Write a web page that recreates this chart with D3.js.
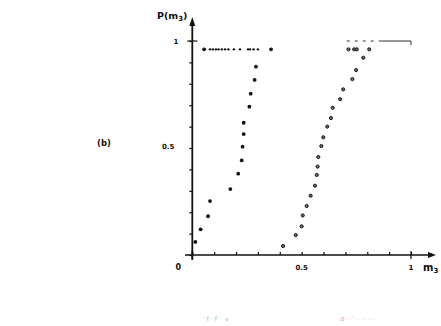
<!DOCTYPE html>
<html>
<head>
<meta charset="utf-8">
<script src="https://cdn.jsdelivr.net/npm/d3@7"></script>
<style>
  body { margin: 0; background: #fff; }
  svg { display: block; }
  text { font-family: "DejaVu Sans", sans-serif; fill: #111; }
</style>
</head>
<body>
<script>
// left series (filled dots): m3, P(m3)
const leftM = [0.014, 0.038, 0.072, 0.081, 0.174, 0.210, 0.226, 0.230, 0.235, 0.235, 0.261, 0.267, 0.285, 0.291,
               0.054, 0.081, 0.094, 0.108, 0.120, 0.135, 0.150, 0.165, 0.190, 0.218, 0.255, 0.264, 0.280, 0.300, 0.360];
const leftP = [0.061, 0.120, 0.181, 0.252, 0.308, 0.380, 0.442, 0.506, 0.565, 0.618, 0.693, 0.754, 0.818, 0.880,
               0.961, 0.961, 0.961, 0.961, 0.961, 0.961, 0.961, 0.961, 0.961, 0.961, 0.961, 0.961, 0.961, 0.961, 0.961];

// right series (open dots)
const rightM = [0.415, 0.473, 0.500, 0.505, 0.523, 0.541, 0.561, 0.569, 0.573, 0.576, 0.590, 0.599, 0.617, 0.634,
                0.642, 0.676, 0.690, 0.732, 0.749, 0.782, 0.714, 0.740, 0.752, 0.809];
const rightP = [0.042, 0.093, 0.134, 0.185, 0.229, 0.277, 0.324, 0.374, 0.413, 0.458, 0.509, 0.550, 0.600, 0.640,
                0.688, 0.728, 0.774, 0.822, 0.864, 0.922, 0.961, 0.961, 0.961, 0.961];

// cap line of the right series at P = 1
const capM = [0.706, 0.86, 1.0];

const xTicks = d3.range(0, 1.001, 0.1);
const yTicks = d3.range(0, 1.001, 0.1);

const W = 441, H = 326;
const svg = d3.select("body").append("svg").attr("width", W).attr("height", H);

const x = d3.scaleLinear().domain([0, 1]).range([192.3, 411]);
const y = d3.scaleLinear().domain([0, 1]).range([255, 41]);

// x axis line with arrow
svg.append("line").attr("x1", 185).attr("x2", 430).attr("y1", y(0)).attr("y2", y(0))
  .attr("stroke", "#111").attr("stroke-width", 1.6);
svg.append("path").attr("d", `M436,${y(0)} L428,${y(0) - 3} L428,${y(0) + 3} Z`).attr("fill", "#111");

// y axis line with arrow
svg.append("line").attr("x1", x(0)).attr("x2", x(0)).attr("y1", 259).attr("y2", 24)
  .attr("stroke", "#111").attr("stroke-width", 1.8);
svg.append("path").attr("d", `M${x(0)},17 L${x(0) - 3},26 L${x(0) + 3},26 Z`).attr("fill", "#111");

// ticks via axes
const xAxis = svg.append("g").attr("transform", `translate(0,${y(0)})`)
  .call(d3.axisBottom(x).tickValues(xTicks).tickSize(-3).tickFormat(""));
xAxis.select(".domain").remove();
xAxis.selectAll(".tick line").attr("stroke", "#111").attr("stroke-width", 1.2);

const yAxis = svg.append("g").attr("transform", `translate(${x(0)},0)`)
  .call(d3.axisLeft(y).tickValues(yTicks).tickSize(3).tickFormat(""));
yAxis.select(".domain").remove();
yAxis.selectAll(".tick line").attr("stroke", "#111").attr("stroke-width", 1.2);

// crossing ticks at 1
svg.append("line").attr("x1", x(0) - 5).attr("x2", x(0) + 5).attr("y1", y(1)).attr("y2", y(1))
  .attr("stroke", "#111").attr("stroke-width", 1.2);
svg.append("line").attr("x1", x(1)).attr("x2", x(1)).attr("y1", y(0) - 4).attr("y2", y(0) + 4)
  .attr("stroke", "#111").attr("stroke-width", 1.2);
svg.append("line").attr("x1", x(0)).attr("x2", x(0)).attr("y1", y(0) - 4).attr("y2", y(0) + 5)
  .attr("stroke", "#111").attr("stroke-width", 1.6);

// tick labels
const lab = (t, px, py, anchor, size) => svg.append("text").attr("x", px).attr("y", py)
  .attr("text-anchor", anchor || "middle").attr("font-size", size || 8).attr("font-weight", "bold").text(t);
lab("1", x(0) - 14, y(1) + 3, "end", 7);
lab("0.5", x(0) - 18, y(0.5) + 1, "end", 7);
lab("0", x(0) - 14, 270, "middle", 8);
lab("0.5", x(0.5), 270, "middle", 7);
lab("1", x(1), 270, "middle", 7);

// axis titles
const mt = svg.append("text").attr("x", 423).attr("y", 271).attr("font-size", 10).attr("font-weight", "bold");
mt.append("tspan").text("m");
mt.append("tspan").attr("font-size", 7).attr("dy", 2).text("3");
const pt = svg.append("text").attr("x", 157).attr("y", 19).attr("font-size", 9.5).attr("font-weight", "bold");
pt.append("tspan").text("P(m");
pt.append("tspan").attr("font-size", 7).attr("dy", 2).text("3");
pt.append("tspan").attr("dy", -2).text(")");

lab("(b)", 104, 146, "middle", 8.5);

// cap line
svg.append("line").attr("x1", x(capM[0])).attr("x2", x(capM[1])).attr("y1", y(1)).attr("y2", y(1))
  .attr("stroke", "#333").attr("stroke-width", 1).attr("stroke-dasharray", "3,5");
svg.append("line").attr("x1", x(capM[1])).attr("x2", x(capM[2])).attr("y1", y(1)).attr("y2", y(1))
  .attr("stroke", "#333").attr("stroke-width", 1);
svg.append("line").attr("x1", x(capM[2])).attr("x2", x(capM[2])).attr("y1", y(1)).attr("y2", y(1) + 4)
  .attr("stroke", "#333").attr("stroke-width", 1);

// points
svg.append("g").selectAll("circle").data(leftM).join("circle")
  .attr("cx", (d) => x(d)).attr("cy", (d, i) => y(leftP[i]))
  .attr("r", (d, i) => (leftP[i] > 0.95 && i > 14 && i < 28) ? 1.2 : 1.9)
  .attr("fill", "#111");
svg.append("g").selectAll("circle").data(rightM).join("circle")
  .attr("cx", (d) => x(d)).attr("cy", (d, i) => y(rightP[i]))
  .attr("r", 1.6).attr("fill", "#666").attr("stroke", "#111").attr("stroke-width", 0.9);

// faint caption remnants
svg.append("text").attr("x", 203).attr("y", 321).attr("font-size", 6).style("fill", "#aaa")
  .text("ʻ f   · f  ˙ ·s");
svg.append("text").attr("x", 340).attr("y", 321).attr("font-size", 6).style("fill", "#aaa")
  .text("d·· ·ˇ· ·    ·· ·· ·");
</script>
</body>
</html>
